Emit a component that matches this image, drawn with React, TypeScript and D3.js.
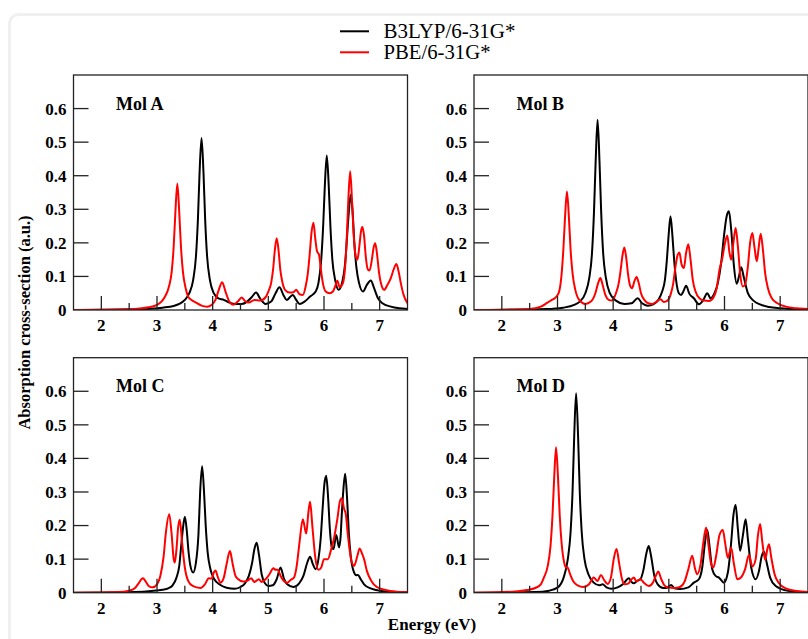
import * as d3 from "d3";

// energy (eV), absorption (a.u.)
const MOL_A_B3LYP: [number, number][] = [
  [1.5, 0], [2.6, 0.002], [2.9, 0.004], [3.1, 0.007], [3.3, 0.012], [3.4, 0.018], [3.5, 0.03], [3.58, 0.05],
  [3.65, 0.09], [3.7, 0.16], [3.735, 0.27], [3.765, 0.41], [3.8, 0.512], [3.835, 0.41], [3.865, 0.27], [3.9, 0.16],
  [3.95, 0.09], [4.02, 0.05], [4.1, 0.035], [4.2, 0.03], [4.3, 0.022], [4.42, 0.018], [4.52, 0.018], [4.62, 0.025],
  [4.7, 0.038], [4.78, 0.052], [4.85, 0.035], [4.95, 0.018], [5.05, 0.025], [5.13, 0.05], [5.2, 0.068], [5.27, 0.045],
  [5.33, 0.03], [5.4, 0.04], [5.44, 0.045], [5.5, 0.03], [5.56, 0.018], [5.65, 0.025], [5.75, 0.04], [5.85, 0.055],
  [5.9, 0.08], [5.95, 0.15], [5.985, 0.25], [6.015, 0.37], [6.05, 0.46], [6.085, 0.37], [6.115, 0.25], [6.15, 0.15],
  [6.2, 0.09], [6.26, 0.06], [6.33, 0.085], [6.38, 0.14], [6.415, 0.22], [6.445, 0.29], [6.48, 0.343], [6.515, 0.29],
  [6.545, 0.2], [6.58, 0.13], [6.63, 0.08], [6.7, 0.055], [6.77, 0.075], [6.84, 0.088], [6.9, 0.065], [6.97, 0.035],
  [7.05, 0.02], [7.2, 0.01], [7.35, 0.005], [7.5, 0.003],
];
const MOL_A_PBE: [number, number][] = [
  [1.5, 0], [2.6, 0.003], [2.85, 0.008], [3.0, 0.015], [3.08, 0.025], [3.145, 0.04], [3.215, 0.07], [3.265, 0.115],
  [3.3, 0.19], [3.33, 0.29], [3.365, 0.376], [3.4, 0.29], [3.43, 0.19], [3.465, 0.115], [3.515, 0.065], [3.56, 0.04],
  [3.62, 0.03], [3.7, 0.022], [3.8, 0.013], [3.9, 0.01], [3.98, 0.015], [4.05, 0.03], [4.11, 0.06], [4.17, 0.083],
  [4.23, 0.055], [4.3, 0.025], [4.37, 0.016], [4.45, 0.025], [4.52, 0.037], [4.58, 0.027], [4.65, 0.022], [4.75, 0.03],
  [4.85, 0.028], [4.95, 0.038], [5.0, 0.055], [5.05, 0.08], [5.085, 0.12], [5.115, 0.175], [5.15, 0.214], [5.185, 0.175],
  [5.215, 0.12], [5.25, 0.085], [5.3, 0.06], [5.38, 0.052], [5.45, 0.053], [5.5, 0.06], [5.56, 0.047], [5.62, 0.045],
  [5.67, 0.07], [5.71, 0.11], [5.745, 0.17], [5.775, 0.23], [5.81, 0.26], [5.845, 0.21], [5.875, 0.175], [5.91, 0.165],
  [5.945, 0.12], [5.98, 0.08], [6.03, 0.055], [6.1, 0.05], [6.16, 0.055], [6.2, 0.07], [6.24, 0.087], [6.28, 0.068],
  [6.34, 0.08], [6.38, 0.13], [6.405, 0.2], [6.435, 0.32], [6.47, 0.413], [6.505, 0.32], [6.535, 0.22], [6.57, 0.16],
  [6.6, 0.15], [6.635, 0.19], [6.665, 0.235], [6.69, 0.247], [6.72, 0.22], [6.75, 0.16], [6.79, 0.12], [6.82, 0.118],
  [6.86, 0.15], [6.89, 0.185], [6.92, 0.199], [6.95, 0.17], [6.99, 0.11], [7.04, 0.07], [7.08, 0.06], [7.14, 0.075],
  [7.2, 0.095], [7.25, 0.12], [7.3, 0.137], [7.34, 0.115], [7.38, 0.08], [7.43, 0.045], [7.5, 0.02],
];
const MOL_B_B3LYP: [number, number][] = [
  [1.5, 0], [2.8, 0.003], [3.1, 0.007], [3.3, 0.015], [3.4, 0.025], [3.5, 0.05], [3.57, 0.095], [3.62, 0.17],
  [3.655, 0.29], [3.685, 0.44], [3.72, 0.567], [3.755, 0.44], [3.785, 0.29], [3.82, 0.17], [3.87, 0.095], [3.94, 0.05],
  [4.05, 0.028], [4.2, 0.018], [4.33, 0.02], [4.44, 0.035], [4.52, 0.02], [4.62, 0.013], [4.72, 0.017], [4.81, 0.03],
  [4.88, 0.055], [4.93, 0.09], [4.965, 0.15], [4.995, 0.22], [5.03, 0.279], [5.065, 0.22], [5.095, 0.15], [5.13, 0.09],
  [5.18, 0.05], [5.22, 0.045], [5.26, 0.055], [5.31, 0.072], [5.37, 0.048], [5.45, 0.035], [5.54, 0.017], [5.62, 0.03],
  [5.69, 0.05], [5.75, 0.035], [5.82, 0.05], [5.88, 0.08], [5.94, 0.14], [5.99, 0.22], [6.04, 0.28], [6.08, 0.294],
  [6.12, 0.24], [6.17, 0.13], [6.22, 0.078], [6.26, 0.1], [6.3, 0.127], [6.35, 0.095], [6.42, 0.05], [6.52, 0.028],
  [6.65, 0.016], [6.8, 0.009], [7.0, 0.005], [7.25, 0.002], [7.5, 0.001],
];
const MOL_B_PBE: [number, number][] = [
  [1.5, 0], [2.5, 0.003], [2.7, 0.01], [2.82, 0.022], [2.9, 0.03], [2.95, 0.035], [3.02, 0.05], [3.07, 0.1],
  [3.105, 0.18], [3.135, 0.275], [3.17, 0.353], [3.205, 0.275], [3.235, 0.18], [3.27, 0.11], [3.32, 0.06], [3.39, 0.03],
  [3.5, 0.018], [3.6, 0.025], [3.68, 0.05], [3.73, 0.08], [3.77, 0.095], [3.81, 0.075], [3.86, 0.045], [3.92, 0.03],
  [3.97, 0.028], [4.05, 0.05], [4.1, 0.08], [4.135, 0.12], [4.165, 0.16], [4.2, 0.186], [4.235, 0.155], [4.265, 0.11],
  [4.3, 0.075], [4.34, 0.065], [4.38, 0.085], [4.42, 0.098], [4.46, 0.08], [4.5, 0.05], [4.56, 0.03], [4.63, 0.02],
  [4.7, 0.018], [4.78, 0.025], [4.85, 0.032], [4.91, 0.024], [4.97, 0.027], [5.03, 0.045], [5.08, 0.08], [5.12, 0.13],
  [5.16, 0.165], [5.19, 0.171], [5.23, 0.135], [5.27, 0.125], [5.31, 0.17], [5.35, 0.196], [5.39, 0.15], [5.43, 0.09],
  [5.48, 0.055], [5.55, 0.035], [5.63, 0.028], [5.72, 0.027], [5.8, 0.037], [5.86, 0.065], [5.91, 0.12], [5.96, 0.154],
  [6.01, 0.2], [6.05, 0.222], [6.09, 0.17], [6.12, 0.15], [6.16, 0.2], [6.2, 0.244], [6.24, 0.19], [6.28, 0.11],
  [6.33, 0.07], [6.37, 0.075], [6.42, 0.13], [6.46, 0.2], [6.5, 0.229], [6.54, 0.185], [6.58, 0.145], [6.61, 0.18],
  [6.65, 0.227], [6.69, 0.18], [6.73, 0.11], [6.78, 0.065], [6.85, 0.035], [6.95, 0.02], [7.1, 0.01], [7.3, 0.005], [7.5, 0.003],
];
const MOL_C_B3LYP: [number, number][] = [
  [1.5, 0], [2.6, 0.002], [2.9, 0.005], [3.1, 0.009], [3.2, 0.013], [3.28, 0.022], [3.35, 0.045], [3.4, 0.08],
  [3.435, 0.14], [3.465, 0.19], [3.5, 0.226], [3.535, 0.185], [3.565, 0.125], [3.6, 0.08], [3.65, 0.06], [3.7, 0.09],
  [3.745, 0.175], [3.775, 0.3], [3.81, 0.377], [3.845, 0.3], [3.875, 0.2], [3.91, 0.12], [3.96, 0.07], [4.03, 0.04],
  [4.12, 0.025], [4.25, 0.015], [4.4, 0.012], [4.5, 0.017], [4.58, 0.028], [4.65, 0.05], [4.71, 0.09], [4.75, 0.13],
  [4.79, 0.149], [4.83, 0.115], [4.88, 0.055], [4.94, 0.028], [5.0, 0.02], [5.08, 0.022], [5.15, 0.04], [5.22, 0.075],
  [5.28, 0.042], [5.34, 0.025], [5.45, 0.017], [5.55, 0.027], [5.63, 0.05], [5.7, 0.09], [5.75, 0.107], [5.8, 0.085],
  [5.85, 0.07], [5.9, 0.1], [5.94, 0.16], [5.975, 0.25], [6.005, 0.32], [6.04, 0.348], [6.075, 0.28], [6.105, 0.19],
  [6.14, 0.135], [6.17, 0.13], [6.22, 0.172], [6.27, 0.135], [6.3, 0.17], [6.315, 0.22], [6.345, 0.3], [6.38, 0.354],
  [6.415, 0.28], [6.445, 0.18], [6.48, 0.11], [6.53, 0.065], [6.58, 0.052], [6.61, 0.053], [6.66, 0.04], [6.72, 0.025],
  [6.85, 0.012], [7.0, 0.006], [7.25, 0.003], [7.5, 0.001],
];
const MOL_C_PBE: [number, number][] = [
  [1.5, 0], [2.3, 0.002], [2.5, 0.006], [2.6, 0.013], [2.67, 0.028], [2.72, 0.04], [2.75, 0.043], [2.79, 0.035],
  [2.85, 0.02], [2.92, 0.016], [3.0, 0.025], [3.06, 0.05], [3.12, 0.11], [3.16, 0.18], [3.22, 0.234], [3.26, 0.18],
  [3.3, 0.1], [3.32, 0.09], [3.35, 0.13], [3.38, 0.195], [3.41, 0.217], [3.45, 0.15], [3.5, 0.075], [3.56, 0.035],
  [3.64, 0.02], [3.78, 0.014], [3.86, 0.025], [3.93, 0.043], [3.98, 0.042], [4.02, 0.06], [4.05, 0.066], [4.09, 0.048],
  [4.14, 0.03], [4.2, 0.045], [4.25, 0.085], [4.31, 0.124], [4.36, 0.085], [4.41, 0.05], [4.46, 0.04], [4.55, 0.033],
  [4.63, 0.036], [4.69, 0.043], [4.75, 0.032], [4.83, 0.04], [4.88, 0.032], [4.95, 0.04], [5.02, 0.055], [5.09, 0.073],
  [5.13, 0.068], [5.17, 0.068], [5.22, 0.05], [5.28, 0.035], [5.34, 0.03], [5.4, 0.038], [5.46, 0.045], [5.51, 0.08],
  [5.56, 0.15], [5.62, 0.219], [5.68, 0.176], [5.72, 0.24], [5.75, 0.271], [5.79, 0.2], [5.84, 0.11], [5.9, 0.068],
  [5.95, 0.075], [6.0, 0.1], [6.07, 0.1], [6.13, 0.13], [6.18, 0.162], [6.24, 0.22], [6.29, 0.275], [6.32, 0.281],
  [6.36, 0.25], [6.39, 0.236], [6.43, 0.17], [6.48, 0.105], [6.54, 0.08], [6.6, 0.11], [6.64, 0.132], [6.68, 0.118],
  [6.72, 0.1], [6.77, 0.065], [6.85, 0.035], [6.95, 0.017], [7.1, 0.008], [7.3, 0.003], [7.5, 0.002],
];
const MOL_D_B3LYP: [number, number][] = [
  [1.5, 0], [2.6, 0.002], [2.85, 0.006], [3.0, 0.015], [3.11, 0.045], [3.185, 0.1], [3.235, 0.18], [3.27, 0.3],
  [3.3, 0.465], [3.334, 0.594], [3.37, 0.465], [3.4, 0.3], [3.435, 0.18], [3.485, 0.1], [3.555, 0.055], [3.65, 0.03],
  [3.75, 0.022], [3.81, 0.025], [3.88, 0.016], [3.97, 0.012], [4.08, 0.016], [4.18, 0.026], [4.28, 0.043], [4.33, 0.032],
  [4.37, 0.028], [4.43, 0.035], [4.49, 0.04], [4.54, 0.065], [4.6, 0.12], [4.64, 0.139], [4.68, 0.11], [4.74, 0.05],
  [4.8, 0.025], [4.9, 0.014], [4.97, 0.015], [5.04, 0.023], [5.1, 0.013], [5.2, 0.011], [5.35, 0.016], [5.45, 0.03],
  [5.54, 0.04], [5.6, 0.075], [5.65, 0.15], [5.69, 0.187], [5.73, 0.14], [5.78, 0.07], [5.84, 0.05], [5.9, 0.045],
  [5.99, 0.03], [6.06, 0.06], [6.12, 0.15], [6.16, 0.23], [6.2, 0.261], [6.24, 0.19], [6.28, 0.125], [6.33, 0.17],
  [6.38, 0.219], [6.42, 0.16], [6.48, 0.075], [6.56, 0.04], [6.62, 0.065], [6.67, 0.11], [6.71, 0.122], [6.75, 0.095],
  [6.82, 0.045], [6.92, 0.02], [7.1, 0.007], [7.3, 0.003], [7.5, 0.001],
];
const MOL_D_PBE: [number, number][] = [
  [1.5, 0], [2.2, 0.003], [2.45, 0.008], [2.6, 0.014], [2.7, 0.025], [2.755, 0.045], [2.825, 0.08], [2.875, 0.14],
  [2.91, 0.23], [2.94, 0.34], [2.974, 0.433], [3.01, 0.34], [3.04, 0.23], [3.075, 0.145], [3.12, 0.09], [3.15, 0.075],
  [3.18, 0.075], [3.22, 0.058], [3.28, 0.035], [3.36, 0.022], [3.47, 0.017], [3.57, 0.026], [3.65, 0.045], [3.72, 0.035],
  [3.78, 0.053], [3.84, 0.037], [3.9, 0.026], [3.96, 0.045], [4.01, 0.1], [4.06, 0.13], [4.11, 0.085], [4.16, 0.04],
  [4.21, 0.025], [4.27, 0.027], [4.33, 0.04], [4.37, 0.045], [4.42, 0.034], [4.49, 0.04], [4.55, 0.03], [4.64, 0.02],
  [4.72, 0.032], [4.77, 0.052], [4.81, 0.063], [4.86, 0.042], [4.92, 0.022], [4.98, 0.016], [5.1, 0.014], [5.2, 0.017],
  [5.28, 0.032], [5.35, 0.07], [5.42, 0.11], [5.47, 0.072], [5.51, 0.055], [5.57, 0.085], [5.62, 0.15], [5.67, 0.194],
  [5.71, 0.145], [5.76, 0.085], [5.8, 0.075], [5.85, 0.11], [5.91, 0.172], [5.97, 0.187], [6.01, 0.15], [6.06, 0.104],
  [6.12, 0.134], [6.17, 0.085], [6.23, 0.04], [6.3, 0.046], [6.37, 0.07], [6.44, 0.112], [6.5, 0.078], [6.56, 0.1],
  [6.6, 0.17], [6.64, 0.205], [6.68, 0.15], [6.73, 0.098], [6.77, 0.13], [6.8, 0.144], [6.84, 0.105], [6.9, 0.055],
  [6.98, 0.028], [7.1, 0.013], [7.3, 0.005], [7.5, 0.002],
];

const MOL_NAMES = ["Mol A", "Mol B", "Mol C", "Mol D"];
const SERIES_NAMES = ["B3LYP/6-31G*", "PBE/6-31G*"];
const SERIES_COLORS = ["#000000", "#ff0000"];
const X_MAJOR = [2, 3, 4, 5, 6, 7];
const X_MINOR = [2.5, 3.5, 4.5, 5.5, 6.5];
const Y_MAJOR = [0, 0.1, 0.2, 0.3, 0.4, 0.5, 0.6];
const Y_LABELS = ["0", "0.1", "0.2", "0.3", "0.4", "0.5", "0.6"];

const SPECTRA = [
  [MOL_A_B3LYP, MOL_A_PBE],
  [MOL_B_B3LYP, MOL_B_PBE],
  [MOL_C_B3LYP, MOL_C_PBE],
  [MOL_D_B3LYP, MOL_D_PBE],
];

// panel frames (left, top) and size
const LAYOUT = [
  { left: 73.5, top: 75 },
  { left: 474, top: 75 },
  { left: 73.5, top: 357.7 },
  { left: 474, top: 357.7 },
];
const PW = 334, PH = 235;
const FONT = "'Liberation Serif', 'Times New Roman', serif";
const LEGEND_WIDTHS = [132, 107];

function Panel({ idx }: { idx: number }) {
  const { left, top } = LAYOUT[idx];
  const x = d3.scaleLinear().domain([1.5, 7.5]).range([0, PW]);
  const y = d3.scaleLinear().domain([0, 0.7]).range([PH, 0]);
  const line = d3.line<[number, number]>()
    .x(d => x(d[0]))
    .y(d => y(d[1]))
    .curve(d3.curveMonotoneX);
  const clipId = `clip-${idx}`;
  return (
    <g transform={`translate(${left},${top})`}>
      <defs>
        <clipPath id={clipId}><rect x={0} y={-2} width={PW} height={PH + 2} /></clipPath>
      </defs>
      <rect x={0} y={0} width={PW} height={PH} fill="#fff" />
      <g clipPath={`url(#${clipId})`}>
        {SPECTRA[idx].map((s, i) => (
          <path key={i} d={line(s) || ""} fill="none" stroke={SERIES_COLORS[i]} strokeWidth={2} strokeLinejoin="round" />
        ))}
      </g>
      {X_MAJOR.map(t => (
        <line key={"xm" + t} x1={x(t)} x2={x(t)} y1={PH} y2={PH - 14} stroke="#222" strokeWidth={1.3} />
      ))}
      {X_MINOR.map(t => (
        <line key={"xn" + t} x1={x(t)} x2={x(t)} y1={PH} y2={PH - 7} stroke="#222" strokeWidth={1.3} />
      ))}
      {Y_MAJOR.slice(1).map(t => (
        <line key={"ym" + t} x1={0} x2={15} y1={y(t)} y2={y(t)} stroke="#222" strokeWidth={1.3} />
      ))}
      <rect x={0} y={0} width={PW} height={PH} fill="none" stroke="#222" strokeWidth={1.3} />
      {X_MAJOR.map(t => (
        <text key={"xl" + t} x={x(t)} y={PH + 21} textAnchor="middle" fontFamily={FONT} fontWeight="bold" fontSize={17} fill="#000">{t}</text>
      ))}
      {Y_MAJOR.map((t, i) => (
        <text key={"yl" + t} x={-7} y={y(t)} dy="0.35em" textAnchor="end" fontFamily={FONT} fontWeight="bold" fontSize={17} fill="#000">{Y_LABELS[i]}</text>
      ))}
      <text x={42.5} y={34.5} fontFamily={FONT} fontWeight="bold" fontSize={18} fill="#000">{MOL_NAMES[idx]}</text>
    </g>
  );
}

export default function App() {
  return (
    <svg width={808} height={639} style={{ display: "block", position: "absolute", left: 0, top: 0 }}>
      <rect x={0} y={0} width={808} height={639} fill="#fff" />
      <rect x={9.5} y={14.5} width={820} height={660} rx={9} fill="#fff" stroke="#f0f0f0" strokeWidth={3} />
      {SERIES_NAMES.map((n, i) => (
        <g key={n}>
          <line x1={340} x2={369} y1={31.3 + i * 21} y2={31.3 + i * 21} stroke={SERIES_COLORS[i]} strokeWidth={2} />
          <text x={383.5} y={37.5 + i * 21} fontFamily={FONT} fontSize={20.5} fill="#000"
            textLength={LEGEND_WIDTHS[i]} lengthAdjust="spacingAndGlyphs">{n}</text>
        </g>
      ))}
      {MOL_NAMES.map((_, i) => <Panel key={i} idx={i} />)}
      <text x={432} y={630} textAnchor="middle" fontFamily={FONT} fontWeight="bold" fontSize={17} fill="#000">Energy (eV)</text>
      <text transform="translate(30,322.5) rotate(-90)" textAnchor="middle" fontFamily={FONT} fontWeight="bold" fontSize={16.5} fill="#000">Absorption cross-section (a.u.)</text>
    </svg>
  );
}
